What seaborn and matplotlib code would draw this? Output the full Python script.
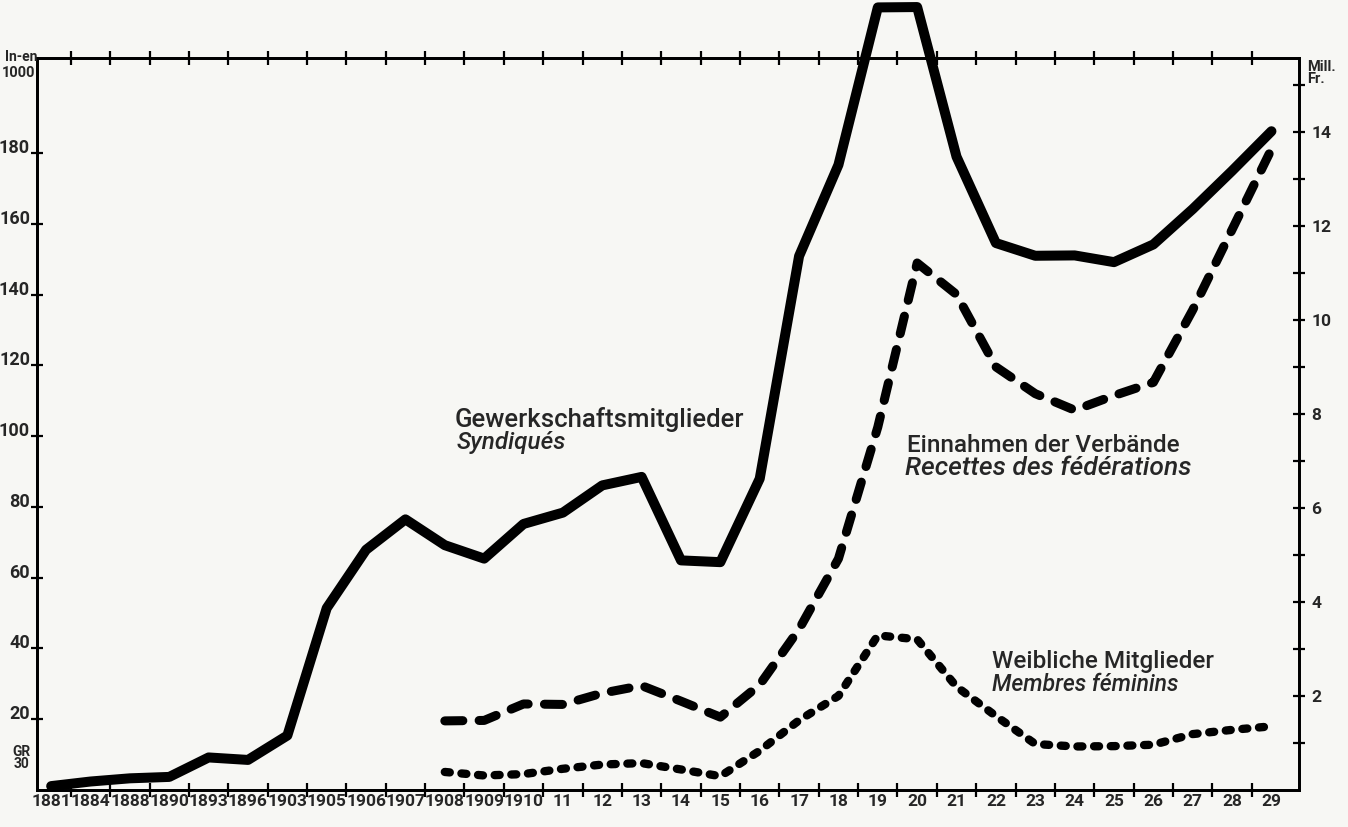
import numpy as np
import pandas as pd
import matplotlib
matplotlib.use("Agg")
import matplotlib.pyplot as plt
import seaborn as sns

# ---------------- data ----------------
years = ["1881", "1884", "1888", "1890", "1893", "1896", "1903", "1905", "1906", "1907",
         "1908", "1909", "1910", "11", "12", "13", "14", "15", "16", "17", "18", "19", "20",
         "21", "22", "23", "24", "25", "26", "27", "28", "29"]
# Gewerkschaftsmitglieder (in 1000)
members = [1.1, 2.4, 3.3, 3.7, 9.2, 8.5, 15.4, 51.4, 67.9, 76.5, 69.2, 65.4, 75.2, 78.4,
           86.1, 88.5, 64.9, 64.4, 88.0, 150.9, 176.7, 221.2, 221.3, 179.0, 154.6, 151.0,
           151.1, 149.2, 154.2, 164.2, 175.0, 186.2]
# series starting 1908
later_years = years[10:]
# Einnahmen der Verbände (Mill. Fr.)
income = [1.47, 1.48, 1.83, 1.82, 2.06, 2.22, 1.89, 1.55, 2.24, 3.42, 4.92, 7.72, 11.21,
          10.54, 9.0, 8.43, 8.08, 8.39, 8.67, 10.21, 11.92, 13.63]
# Weibliche Mitglieder (in 1000)
women = [5.1, 4.1, 4.5, 6.0, 7.2, 7.6, 5.8, 3.9, 11.1, 19.7, 26.6, 43.7, 42.6, 29.2, 20.9,
         13.0, 12.3, 12.4, 12.8, 15.8, 17.0, 18.0]

left_ticks = [20, 40, 60, 80, 100, 120, 140, 160, 180]
right_ticks = [2, 4, 6, 8, 10, 12, 14]

# ---------------- style ----------------
sns.set_style("white")
plt.rcParams["font.family"] = ["Roboto", "DejaVu Sans"]

paper = "#f7f7f4"
W, H = 1348, 827
fig = plt.figure(figsize=(W / 100, H / 100), dpi=100, facecolor=paper)

x0, x1, ytop, ybot = 37, 1299, 58, 790
ax = fig.add_axes([x0 / W, 1 - ybot / H, (x1 - x0) / W, (ybot - ytop) / H])
ax.set_facecolor(paper)
ax2 = ax.twinx()

pos_all = np.arange(len(years))
df_m = pd.DataFrame({"pos": pos_all, "val": members, "year": years})
pos_later = np.array([years.index(y) for y in later_years])
df_i = pd.DataFrame({"pos": pos_later, "val": income})
df_w = pd.DataFrame({"pos": pos_later, "val": women})

sns.lineplot(data=df_m, x="pos", y="val", ax=ax, color="black", linewidth=7.2,
             solid_capstyle="round", solid_joinstyle="round", clip_on=False,
             zorder=3)
sns.lineplot(data=df_w, x="pos", y="val", ax=ax, color="black", linewidth=6.0,
             clip_on=False, zorder=3)
wl = ax.lines[-1]
wl.set_dashes([0.6, 1.4])
wl.set_dash_capstyle("round")

sns.lineplot(data=df_i, x="pos", y="val", ax=ax2, color="black", linewidth=6.5,
             clip_on=False, zorder=3)
ln = ax2.lines[-1]
ln.set_dashes([2.0, 1.8])
ln.set_dash_capstyle("round")

ax.set_xlim(-0.36, 31.7)
ax.set_ylim(0, 206.9)
ax2.set_ylim(0, 15.57)

# x axis
ax.set_xticks(pos_all)
ax.set_xticklabels(years, fontsize=12.5, fontweight="bold")
ax.tick_params(axis="x", which="major", length=0, pad=3)
ax.set_xticks(np.arange(0.5, 31, 1), minor=True)
ax.tick_params(axis="x", which="minor", direction="inout", length=10, width=1.6,
               top=True, bottom=True, color="black")
ax.set_xlabel("")

# left y
ax.set_yticks(left_ticks)
ax.set_yticklabels([str(v) for v in left_ticks], fontsize=13, fontweight="bold")
ax.tick_params(axis="y", which="major", direction="inout", length=8, width=1.6, pad=1,
               left=True, color="black")
for t in ax.get_yticklabels():
    t.set_va("baseline")
ax.set_ylabel("")

# right y
ax2.set_yticks(right_ticks)
ax2.set_yticklabels([str(v) for v in right_ticks], fontsize=12.5, fontweight="bold")
ax2.set_yticks([1, 3, 5, 7, 9, 11, 13, 15], minor=True)
ax2.tick_params(axis="y", which="both", direction="inout", length=8, width=1.6, pad=5,
                right=True, color="black")
ax2.set_ylabel("")

for a in (ax, ax2):
    for s in a.spines.values():
        s.set_linewidth(2.0)
        s.set_color("black")
        s.set_visible(True)

def ftext(x, y, s, **kw):
    fig.text(x / W, 1 - y / H, s, **kw)

# axis unit labels
ftext(5, 57, "In-en", fontsize=10, fontweight="bold", va="center", ha="left")
ftext(35, 73, "1000", fontsize=10.5, fontweight="bold", va="center", ha="right")
ftext(21, 758, "GR\n30", fontsize=10, fontweight="bold", va="center", ha="center",
      linespacing=0.9)
ftext(1307, 73, "Mill.\nFr.", fontsize=10.5, fontweight="bold", va="center", ha="left",
      linespacing=0.9)

# series labels
ftext(455, 427, "Gewerkschaftsmitglieder", fontsize=18.5, fontweight="medium",
      va="baseline", ha="left")
ftext(457, 449, "Syndiqués", fontsize=17.5, style="italic", fontweight="medium",
      va="baseline", ha="left")
ftext(907, 452, "Einnahmen der Verbände", fontsize=17.5, fontweight="medium",
      va="baseline", ha="left")
ftext(905, 475, "Recettes des fédérations", fontsize=19, style="italic",
      fontweight="medium", va="baseline", ha="left")
ftext(992, 668, "Weibliche Mitglieder", fontsize=17.5, fontweight="medium",
      va="baseline", ha="left")
ftext(992, 691, "Membres féminins", fontsize=16.5, style="italic", fontweight="medium",
      va="baseline", ha="left")

fig.savefig("out.png", dpi=100, facecolor=paper)
